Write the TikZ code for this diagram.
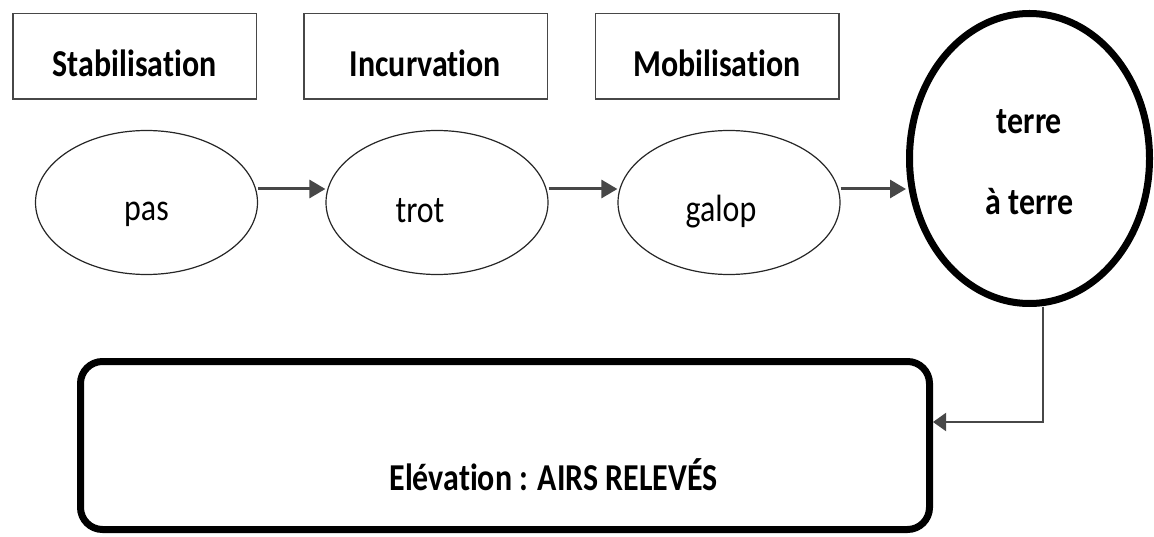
\documentclass[tikz,border=0pt]{standalone}
\usepackage{fontspec}
\setmainfont[FakeStretch=0.84, Ligatures={NoCommon}]{Carlito}
\usetikzlibrary{shapes.geometric, arrows.meta}
\colorlet{line gray}{black!72}
\tikzset{phase/.style={draw=line gray, line width=1.5pt, minimum width=243.5pt, minimum height=85.5pt, inner sep=0pt}}
\tikzset{gait/.style={ellipse, draw=black!85, line width=1.2pt, minimum width=222pt, minimum height=144pt, inner sep=0pt}}
\tikzset{txt/.style={anchor=base, inner sep=0pt, font=\fontsize{38}{46}\selectfont}}
\tikzset{btxt/.style={txt, font=\fontsize{38}{46}\selectfont\bfseries}}
\tikzset{flow/.style={line width=3pt, draw=line gray, -{Triangle[length=16pt,width=18pt]}}}

\begin{document}
\begin{tikzpicture}[x=1pt, y=-1pt]
    \useasboundingbox (0, 0) rectangle (1154, 537);
    % phases
    \node[phase, label={[btxt, yshift=-6.5pt]center:Stabilisation}] (stab) at (134.5, 56.5) {};
    \node[phase, label={[btxt, yshift=-6.5pt]center:Incurvation}] (incu) at (425.5, 56.5) {};
    \node[phase, label={[btxt, yshift=-6.5pt]center:Mobilisation}] (mobi) at (717, 56.5) {};
    % gaits
    \node[gait, label={[txt, yshift=-11.5pt]center:pas}] (pas) at (146.5, 202.5) {};
    \node[gait, label={[txt, xshift=-17pt, yshift=-8pt]center:trot}] (trot) at (437, 202.5) {};
    \node[gait, label={[txt, xshift=-8pt, yshift=-9pt]center:galop}] (galop) at (729, 202.5) {};
    \node[ellipse, draw, line width=7pt, minimum width=240pt, minimum height=290pt, inner sep=0pt,
        label={[btxt, yshift=36.5pt]center:terre},
        label={[btxt, yshift=-43.5pt]center:à terre}] (terre) at (1029.5, 158.5) {};
    \node[draw, line width=7pt, rounded corners=22pt, minimum width=849pt, minimum height=168pt, inner sep=0pt,
        label={[btxt, xshift=48.5pt, yshift=-29.5pt]center:Elévation : AIRS RELEVÉS}] (elev) at (505, 445.5) {};
    % arrows
    \draw[flow] ([yshift=13.5pt]pas.east) -- ([yshift=13.5pt]pas.east -| trot.west);
    \draw[flow] ([yshift=13.5pt]trot.east) -- ([yshift=13.5pt]trot.east -| galop.west);
    \draw[flow] ([yshift=13.5pt]galop.east) -- ([yshift=13.5pt]galop.east -| terre.west);
    \draw[line gray, line width=2pt, -{Triangle[length=13pt,width=18pt]}]
        ([xshift=13.5pt]terre.south) |- ([yshift=23.5pt]elev.east);
\end{tikzpicture}
\end{document}
